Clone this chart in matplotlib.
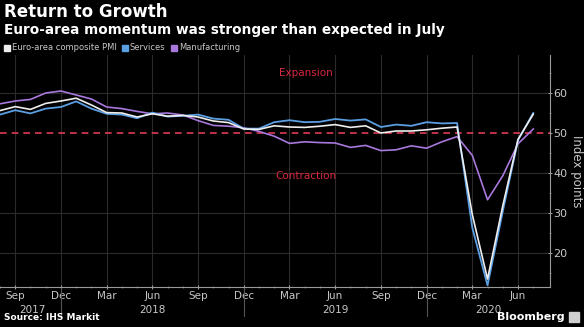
import matplotlib
matplotlib.use("Agg")
import matplotlib.pyplot as plt
import matplotlib.transforms as mtransforms
from matplotlib.patches import Rectangle

# ---- data (monthly, Aug 2017 .. Jul 2020) ----
month_index = list(range(-1, 35))  # 0 = Sep 2017
composite = [55.7, 56.7, 56.0, 57.5, 58.1,
             58.8, 57.1, 55.2, 55.1, 54.1, 54.9, 54.3, 54.5, 54.1, 53.1, 52.7, 51.1,
             51.0, 51.9, 51.6, 51.5, 51.8, 52.2, 51.5, 51.9, 50.1, 50.6, 50.6, 50.9,
             51.3, 51.6, 29.7, 13.6, 31.9, 48.5, 54.8]
services = [54.7, 55.8, 55.0, 56.2, 56.6,
            58.0, 56.2, 54.9, 54.7, 53.8, 55.2, 54.2, 54.4, 54.7, 53.7, 53.4, 51.2,
            51.2, 52.8, 53.3, 52.8, 52.9, 53.6, 53.2, 53.5, 51.6, 52.2, 51.9, 52.8,
            52.5, 52.6, 26.4, 12.0, 30.5, 48.3, 55.1]
manufacturing = [57.4, 58.1, 58.5, 60.1, 60.6,
                 59.6, 58.6, 56.6, 56.2, 55.5, 54.9, 55.1, 54.6, 53.2, 52.0, 51.8, 51.4,
                 50.5, 49.3, 47.5, 47.9, 47.7, 47.6, 46.5, 47.0, 45.7, 45.9, 46.9, 46.3,
                 47.9, 49.2, 44.5, 33.4, 39.4, 47.4, 51.1]
tick_pos = list(range(0, 34, 3))
tick_labels = ["Sep", "Dec", "Mar", "Jun", "Sep", "Dec", "Mar", "Jun", "Sep", "Dec", "Mar", "Jun"]
year_labels = ["2017", "2018", "2019", "2020"]
year_seps = [3, 15, 27]
threshold = 50

BG = "black"
WHITE = "#eeeeee"
BLUE = "#5b9fe3"
PURPLE = "#a878dc"
RED = "#d8283f"
GRID = "#2b2b2b"
TXT = "#c8c8c8"

fig = plt.figure(figsize=(5.84, 3.27), dpi=100, facecolor=BG)
ax = fig.add_axes([0.0, 0.1223, 550 / 584, 0.8318 - 0.1223], facecolor=BG)

xmin, xmax = -0.78, 35.1
ax.set_xlim(xmin, xmax)
ax.set_ylim(11.6, 69.6)

ax.plot(month_index, manufacturing, color=PURPLE, lw=1.2, zorder=3)
ax.plot(month_index, services, color=BLUE, lw=1.3, zorder=4)
ax.plot(month_index, composite, color=WHITE, lw=1.2, zorder=5)

ax.axhline(threshold, color="#e03a55", lw=1.2, ls=(0, (4, 3)), zorder=2)

ax.text(19.1, 65, "Expansion", color=RED, fontsize=7.5, ha="center", va="center")
ax.text(19.1, 39.3, "Contraction", color=RED, fontsize=7.5, ha="center", va="center")

# grid
for t in tick_pos:
    ax.axvline(t, color=GRID, lw=0.8, zorder=1)
for y in [20, 30, 40, 60]:
    ax.axhline(y, color=GRID, lw=0.8, zorder=1)

# spines
for s in ["top", "left"]:
    ax.spines[s].set_visible(False)
ax.spines["bottom"].set_color("#9a9a9a")
ax.spines["right"].set_color("#9a9a9a")
ax.spines["bottom"].set_linewidth(0.8)
ax.spines["right"].set_linewidth(0.8)

# y axis on right
ax.yaxis.tick_right()
ax.yaxis.set_label_position("right")
ax.set_yticks([20, 30, 40, 50, 60])
ax.set_yticks([15, 25, 35, 45, 55, 65], minor=True)
ax.tick_params(axis="y", which="major", colors="#9a9a9a", labelcolor=TXT, labelsize=8,
               length=3, width=0.8, direction="inout", pad=1)
ax.tick_params(axis="y", which="minor", colors="#777777", length=2, width=0.6, direction="inout")
ax.set_ylabel("Index points", color=TXT, fontsize=8.5, rotation=270, labelpad=11)

# x axis
ax.set_xticks(tick_pos)
ax.set_xticklabels(tick_labels)
ax.set_xticks(month_index, minor=True)
ax.tick_params(axis="x", which="major", colors="#9a9a9a", labelcolor=TXT, labelsize=7.5,
               length=3, width=0.8, direction="inout", pad=1.5)
ax.tick_params(axis="x", which="minor", colors="#777777", length=2, width=0.6, direction="inout")

trans = mtransforms.blended_transform_factory(ax.transData, fig.transFigure)
year_pos = [(xmin + year_seps[0]) / 2, (year_seps[0] + year_seps[1]) / 2,
            (year_seps[1] + year_seps[2]) / 2, (year_seps[2] + xmax) / 2]
for xp, lab in zip(year_pos, year_labels):
    fig.text(xp, 1 - 310 / 327, lab, transform=trans, color=TXT, fontsize=7.5,
             ha="center", va="center")
for xs in year_seps:
    ax.plot([xs, xs], [1 - 287 / 327, 1 - 316 / 327], transform=trans, color="#555555",
            lw=0.8, clip_on=False)

# titles
fig.text(0.006, 1 - 12 / 327, "Return to Growth", color="white", fontsize=12,
         fontweight="bold", ha="left", va="center")
fig.text(0.006, 1 - 30 / 327, "Euro-area momentum was stronger than expected in July",
         color="white", fontsize=9.8, fontweight="bold", ha="left", va="center")

# legend
leg_items = [("Euro-area composite PMI", WHITE, 4), ("Services", BLUE, 122), ("Manufacturing", PURPLE, 171)]
for lab, col, xpx in leg_items:
    fig.patches.append(Rectangle((xpx / 584, 1 - 50.5 / 327), 6 / 584, 6 / 327,
                                 transform=fig.transFigure, color=col, figure=fig))
    fig.text((xpx + 8) / 584, 1 - 47.5 / 327, lab, color=TXT, fontsize=6.0,
             ha="left", va="center")

fig.text(0.006, 1 - 318 / 327, "Source: IHS Markit", color="white", fontsize=6.5,
         fontweight="bold", ha="left", va="center")
fig.text(565 / 584, 1 - 317 / 327, "Bloomberg", color="white", fontsize=8,
         fontweight="bold", ha="right", va="center")
fig.patches.append(Rectangle((569 / 584, 1 - 322 / 327), 10 / 584, 10 / 327,
                             transform=fig.transFigure, color="#cfcfcf", figure=fig))

fig.savefig("out.png", dpi=100, facecolor=BG)
